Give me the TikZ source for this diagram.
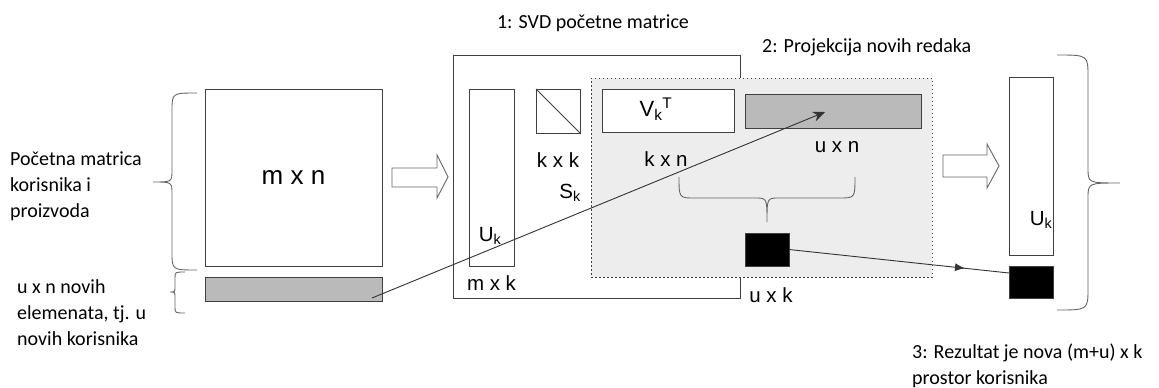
\documentclass[tikz,border=0pt]{standalone}
\usepackage{fontspec}
\setmainfont{Carlito}
\newfontfamily\arial{Liberation Sans}
\usepackage{tikz}
\usetikzlibrary{positioning,decorations.markings,arrows.meta}

\begin{document}
\begin{tikzpicture}
	[x=1pt, y=-1pt,
	 box/.style = {draw=black!75, line width=0.9pt, inner sep=0pt, outer sep=0pt},
	 dim/.style = {font=\arial\fontsize{20.5}{24}\selectfont, inner sep=0pt},
	 txt/.style = {font=\fontsize{20}{26}\selectfont, align=left, inner sep=0pt},
	 brc/.style = {draw=black!60, line width=0.9pt},
	 fat/.style = {draw=black!60, fill=white, line width=0.9pt}]
	\useasboundingbox (0,0) rectangle (1159,388);

	% starting matrix and the new rows
	\node[box, minimum width=177pt, minimum height=177pt, font=\arial\fontsize{26}{30}\selectfont] (mn) at (293.5,177.5) {m x n};
	\node[box, fill=black!27, minimum width=177pt, minimum height=24pt] (new) at (293.5,289) {};
	\node[txt, anchor=west] (orig) at (10,186) {Početna matrica\\korisnika i\\proizvoda};
	\node[txt, anchor=west] (rows) at (17,313) {u x n novih\\elemenata, tj. u\\novih korisnika};
	\draw[brc] (197,93) .. controls (172,93) .. (172,111) -- (172,170) .. controls (172,182) .. (153,182)
		.. controls (172,182) .. (172,194) -- (172,252) .. controls (172,270) .. (197,270);
	\draw[brc] (185,272) .. controls (175,272) .. (175,278) -- (175,287) .. controls (175,292) .. (170,292)
		.. controls (175,292) .. (175,297) -- (175,307) .. controls (175,313) .. (185,313);
	\draw[fat] (392,168) -- (437,168) -- (437,155) -- (448,177) -- (437,198) -- (437,187) -- (392,187) -- cycle;

	% 1: svd
	\node[box, minimum width=287pt, minimum height=243pt] (svd) at (596.5,176.5) {};
	\node[txt] (t1) at (593,23) {1: SVD početne matrice};
	\node[box, minimum width=45pt, minimum height=177pt] (uk) at (491.5,177.5) {};
	\node[dim] (ukl) at (490,236) {U\textsubscript{k}};
	\node[dim, below=9pt of uk] (mk) {m x k};
	\node[box, minimum size=44pt] (sk) at (558,111) {};
	\draw[box] (sk.north west) -- (sk.south east);
	\node[dim, below=19pt of sk] (kk) {k x k};
	\node[dim] (skl) at (570,193) {S\textsubscript{k}};

	% 2: projection
	\node[box, dash pattern=on 1.5pt off 2.5pt, fill=black!7, minimum width=341pt, minimum height=199pt] (proj) at (761.5,177.5) {};
	\node[txt, anchor=west] (t2) at (762,47) {2: Projekcija novih redaka};
	\node[box, fill=white, minimum width=132pt, minimum height=43pt] (vt) at (668,110.5) {};
	\node[dim, font=\arial\fontsize{22}{26}\selectfont] (vtl) at (656,109) {V\textsubscript{k}\textsuperscript{T}};
	\node[dim] (kn) at (666,159) {k x n};
	\node[box, fill=black!27, minimum width=176pt, minimum height=34pt] (un) at (833,111) {};
	\node[dim] (unl) at (837,147) {u x n};
	\draw[brc] (679,177) .. controls (679,198) .. (695,198) -- (755,198) .. controls (767,198) .. (767,222)
		.. controls (767,198) .. (779,198) -- (839,198) .. controls (855,198) .. (855,177);
	\node[box, fill=black, minimum width=44pt, minimum height=33pt] (blk) at (767,249.5) {};
	\node[dim] (ukx) at (771,295) {u x k};

	% 3: result
	\draw[fat] (943,155) -- (987,155) -- (987,144) -- (999,166) -- (987,188) -- (987,177) -- (943,177) -- cycle;
	\node[box, minimum width=44pt, minimum height=178pt] (uk2) at (1031,166) {};
	\node[dim] (uk2l) at (1041,220) {U\textsubscript{k}};
	\node[box, fill=black, minimum width=44pt, minimum height=32pt] (blk2) at (1031,282) {};
	\draw[brc] (1057,55) .. controls (1088,55) .. (1088,77) -- (1088,168) .. controls (1088,183) .. (1120,183)
		.. controls (1088,183) .. (1088,198) -- (1088,288) .. controls (1088,310) .. (1057,310);
	\node[txt, anchor=west] (t3) at (912,365.5) {3: Rezultat je nova (m+u) x k\\prostor korisnika};

	% connectors
	\coordinate (a1) at (372,298);
	\coordinate (a2) at (825,112);
	\coordinate (b2) at (1009,273);
	\draw[line width=0.9pt, black!80, -{Stealth[length=12pt, width=10pt]}] (a1) -- (a2);
	\draw[line width=0.9pt, black!80, postaction={decorate},
		decoration={markings, mark=at position 0.8 with {\arrow{Latex[length=10pt, width=8pt]}}}] (blk.east) -- (b2);
\end{tikzpicture}
\end{document}
